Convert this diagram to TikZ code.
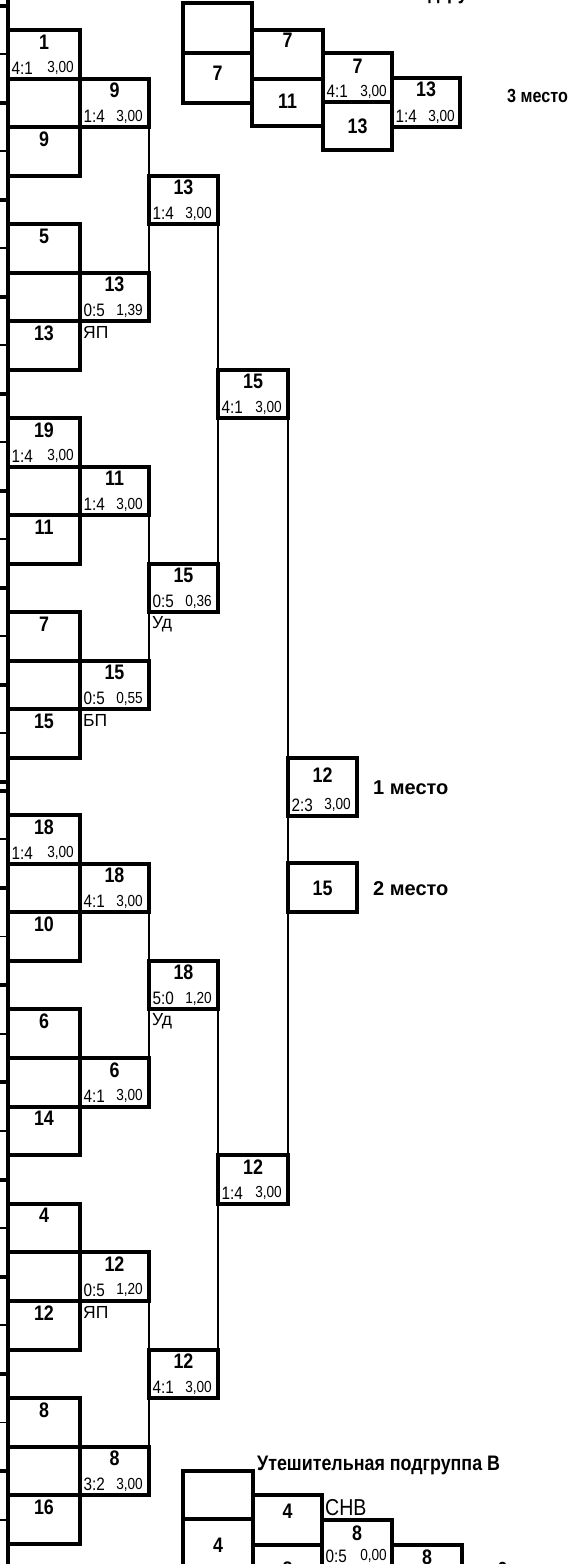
\documentclass[tikz,border=0pt]{standalone}
\usepackage{fontspec}
\setmainfont{Liberation Sans}
\newfontfamily\narrowfont[FakeStretch=0.85]{Liberation Sans}
\usetikzlibrary{positioning,calc}

\begin{document}
\begin{tikzpicture}[x=1pt,y=-1pt,
  cellbox/.style={draw,line width=4pt,inner sep=0pt,outer sep=0pt,anchor=north west,minimum height=48.5pt},
  num/.style={font=\narrowfont\bfseries\fontsize{21}{21}\selectfont,inner sep=0pt,anchor=base},
  scr/.style={font=\narrowfont\fontsize{18}{18}\selectfont,inner sep=0pt,anchor=base west},
  val/.style={font=\narrowfont\fontsize{16}{16}\selectfont,inner sep=0pt,anchor=base east},
  tag/.style={font=\fontsize{17.5}{17.5}\selectfont,inner sep=0pt,anchor=north west},
  place/.style={font=\bfseries\fontsize{20}{20}\selectfont,inner sep=0pt,anchor=base west},
  title/.style={font=\narrowfont\bfseries\fontsize{21}{21}\selectfont,inner sep=0pt,anchor=base west},
  link/.style={line width=1.8pt},
  frame/.style={line width=4pt}]
\useasboundingbox (0,0) rectangle (570,1564);
% left border and the cut-off ticks
\coordinate (edgetop) at (8,-3);
\coordinate (edgebot) at (8,1567);
\draw[frame] (edgetop) -- (edgebot);
\foreach \y/\lw [count=\i] in {5.75/4,54.25/1.8,102.75/4,151.25/1.8,199.75/4,248.25/1.8,296.75/4,345.25/1.8,
  393.75/4,442.25/1.8,490.75/4,539.25/1.8,587.75/4,636.25/1.8,684.75/4,733.25/1.8,781.75/4,
  790.75/4,839.35/1.8,887.95/4,936.55/1.8,985.15/4,1033.75/1.8,1082.35/4,1130.95/1.8,
  1179.55/4,1228.15/1.8,1276.75/4,1325.35/1.8,1373.95/4,1422.55/1.8,1471.15/4,1519.75/1.8}{
  \coordinate (tk\i) at (0,\y);
  \draw[line width=\lw pt] (tk\i) -- (8,\y);
}
% main bracket cells
\foreach \n/\x/\y/\w/\t/\s/\v in {
  p1/8/30/72/1/4:1/{3,00}, p2/8/78.5/72/{}/{}/{}, p3/8/127/72/9/{}/{},
  p4/8/224/72/5/{}/{}, p5/8/272.5/72/{}/{}/{}, p6/8/321/72/13/{}/{},
  p7/8/418/72/19/1:4/{3,00}, p8/8/466.5/72/{}/{}/{}, p9/8/515/72/11/{}/{},
  p10/8/612/72/7/{}/{}, p11/8/660.5/72/{}/{}/{}, p12/8/709/72/15/{}/{},
  p13/8/815/72/18/1:4/{3,00}, p14/8/863.6/72/{}/{}/{}, p15/8/912.2/72/10/{}/{},
  p16/8/1009.4/72/6/{}/{}, p17/8/1058/72/{}/{}/{}, p18/8/1106.6/72/14/{}/{},
  p19/8/1203.8/72/4/{}/{}, p20/8/1252.4/72/{}/{}/{}, p21/8/1301/72/12/{}/{},
  p22/8/1398.2/72/8/{}/{}, p23/8/1446.8/72/{}/{}/{}, p24/8/1495.4/72/16/{}/{},
  q1/80/78.5/69/9/1:4/{3,00}, q2/80/272.5/69/13/0:5/{1,39},
  q3/80/466.5/69/11/1:4/{3,00}, q4/80/660.5/69/15/0:5/{0,55},
  q5/80/863.6/69/18/4:1/{3,00}, q6/80/1058/69/6/4:1/{3,00},
  q7/80/1252.4/69/12/0:5/{1,20}, q8/80/1446.8/69/8/3:2/{3,00},
  r1/149/175.5/69/13/1:4/{3,00}, r2/149/563.5/69/15/0:5/{0,36},
  r3/149/960.8/69/18/5:0/{1,20}, r4/149/1349.6/69/12/4:1/{3,00},
  s1/218/369.5/70/15/4:1/{3,00}, s2/218/1155.2/70/12/1:4/{3,00}}{
  \node[cellbox,minimum width=\w pt] (\n) at (\x,\y) {};
  \node[num] (\n-t) at ($(\n.north)+(0,19)$) {\t};
  \node[scr] (\n-s) at ($(\n.south west)+(3.5,-4.5)$) {\s};
  \node[val] (\n-v) at ($(\n.south east)+(-6,-6)$) {\v};
}
\node[tag] (q2-tag) at ($(q2.south west)+(3,5)$) {ЯП};
\node[tag] (q4-tag) at ($(q4.south west)+(3,5)$) {БП};
\node[tag] (r2-tag) at ($(r2.south west)+(3,4)$) {Уд};
\node[tag] (r3-tag) at ($(r3.south west)+(3,4)$) {Уд};
\node[tag] (q7-tag) at ($(q7.south west)+(3,5)$) {ЯП};
% final
\node[cellbox,minimum width=69pt,minimum height=58pt] (w1) at (288,758) {};
\node[num] (w1-t) at ($(w1.north)+(0,24)$) {12};
\node[scr] (w1-s) at ($(w1.south west)+(3.5,-5)$) {2:3};
\node[val] (w1-v) at ($(w1.south east)+(-6,-7)$) {3,00};
\node[cellbox,minimum width=69pt,minimum height=49pt] (w2) at (288,863) {};
\node[num] (w2-t) at ($(w2.north)+(0,32)$) {15};
\node[place] (w1-p) at (373,794) {1 место};
\node[place] (w2-p) at (373,895) {2 место};
% connectors
\foreach \a/\b in {q1.south east/r1.north west, r1.south west/q2.north east,
  q3.south east/r2.north west, r2.south west/q4.north east,
  q5.south east/r3.north west, r3.south west/q6.north east,
  q7.south east/r4.north west, r4.south west/q8.north east,
  r1.south east/s1.north west, s1.south west/r2.north east,
  r3.south east/s2.north west, s2.south west/r4.north east,
  s1.south east/w1.north west, w1.south west/w2.north west, w2.south west/s2.north east}{
  \draw[link] (\a) -- (\b);
}
% consolation group A (top)
\node[title] (ua-title) at (274,-0.5) {Утешительная подгруппа А};
\foreach \n/\x/\y/\w/\h/\d/\t/\s/\v in {
  ua/183/3/69/50/0/{}/{}/{}, ub/183/53/69/50/27/7/{}/{},
  uc/252/30/71/49/17/7/{}/{}, ud/252/79/71/47/29/11/{}/{},
  ue/323/53/69/49/20/7/4:1/{3,00}, uf/323/102/69/48/31/13/{}/{},
  ug/392/78/68/49/18/13/1:4/{3,00}}{
  \node[cellbox,minimum width=\w pt,minimum height=\h pt] (\n) at (\x,\y) {};
  \node[num] (\n-t) at ($(\n.north)+(0,\d)$) {\t};
  \node[scr] (\n-s) at ($(\n.south west)+(3.5,-4.5)$) {\s};
  \node[val] (\n-v) at ($(\n.south east)+(-5,-6)$) {\v};
}
\node[place,font=\narrowfont\bfseries\fontsize{19}{19}\selectfont] (ug-p) at (507,102) {3 место};
% consolation group B (bottom)
\node[title] (la-title) at (257,1470) {Утешительная подгруппа В};
\foreach \n/\x/\y/\w/\h/\d/\t/\s/\v in {
  la/183/1471/70/48/0/{}/{}/{}, lb/183/1519/70/50/33/4/{}/{},
  lc/253/1495/69/50/23/4/{}/{}, ld/253/1545/69/50/31/8/{}/{},
  le/322/1520/70/50/20/8/0:5/{0,00}, lf/392/1545/70/50/19/8/{}/{}}{
  \node[cellbox,minimum width=\w pt,minimum height=\h pt] (\n) at (\x,\y) {};
  \node[num] (\n-t) at ($(\n.north)+(0,\d)$) {\t};
}
\node[scr] (le-s) at ($(le.north west)+(3.5,42)$) {0:5};
\node[val] (le-v) at ($(le.north east)+(-5,40)$) {0,00};
\node[tag,font=\narrowfont\fontsize{23}{23}\selectfont] (lc-tag) at (325,1499) {СНВ};
\node[place,font=\narrowfont\bfseries\fontsize{19}{19}\selectfont] (lf-p) at (498,1575) {3 место};
\end{tikzpicture}
\end{document}
